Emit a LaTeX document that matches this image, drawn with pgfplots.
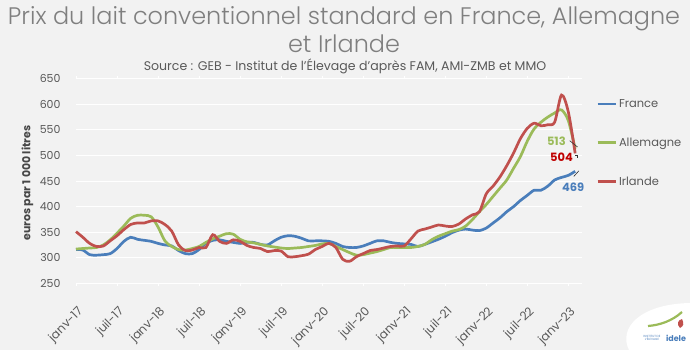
\documentclass[border=0pt]{standalone}
\usepackage{pgfplots}
\pgfplotsset{compat=1.18}
\usepackage{fontspec}
\setmainfont{Poppins}
\newfontfamily\lightfont{Poppins Light}
\definecolor{bg}{HTML}{F2F2F2}
\definecolor{fr}{HTML}{4A7EBB}
\definecolor{de}{HTML}{9BBB59}
\definecolor{ie}{HTML}{C0504D}
\definecolor{ied}{HTML}{C00000}
\definecolor{ttl}{HTML}{7F7F7F}
\definecolor{txt}{HTML}{595959}
\begin{document}
\begin{tikzpicture}[x=1bp,y=1bp]
\useasboundingbox (0,0) rectangle (690,350);
\fill[bg] (0,0) rectangle (690,350);
\node[anchor=base, font=\lightfont\fontsize{24}{28}\selectfont, text=ttl, inner sep=0] at (344,326) {Prix du lait conventionnel standard en France, Allemagne};
\node[anchor=base, font=\lightfont\fontsize{24}{28}\selectfont, text=ttl, inner sep=0] at (344,298) {et Irlande};
\node[anchor=base, font=\fontsize{12.6}{14}\selectfont, text=txt, inner sep=0] at (345,280) {Source : GEB - Institut de l'Élevage d'après FAM, AMI-ZMB et MMO};
\node[rotate=90, font=\bfseries\fontsize{11}{13}\selectfont, text=txt!80!black] at (27.5,167) {euros par 1 000 litres};
% logo
\fill[white] (629,0) .. controls (618,22) and (640,46) .. (690,47) -- (690,0) -- cycle;
\draw[de, line width=2.2bp] (648,24) .. controls (660,25) and (672,29) .. (682,38);
\fill[ie] (680,22) .. controls (676,26) and (678,30) .. (682,31) .. controls (684,27) and (684,24) .. cycle;
\node[font=\bfseries\fontsize{8}{9}\selectfont, text=fr, inner sep=0] at (676,12) {idele};
\node[font=\fontsize{3}{3.5}\selectfont, text=fr, inner sep=0, align=center] at (652,12) {INSTITUT DE\\L'ÉLEVAGE};
\begin{axis}[
  at={(76bp,66.7bp)}, anchor=south west,
  scale only axis, width=506bp, height=204.6bp,
  xmin=0, xmax=74, ymin=250, ymax=650,
  xtick={0,6,...,72},
  xticklabels={janv-17,juil-17,janv-18,juil-18,janv-19,juil-19,janv-20,juil-20,janv-21,juil-21,janv-22,juil-22,janv-23},
  ytick={250,300,...,650},
  /pgf/number format/assume math mode=true,
  ymajorgrids, major grid style={white, line width=1bp},
  axis line style={draw=none},
  tick align=outside, major tick length=3bp,
  xtick style={white, line width=1bp},
  ytick style={draw=none},
  tick label style={font=\fontsize{11}{13}\selectfont, text=txt},
  xticklabel style={font=\fontsize{12}{14}\selectfont, yshift=-23bp, xshift=6bp, rotate=45, anchor=east, inner sep=1bp},
  yticklabel style={xshift=-9bp},
  clip=false,
  legend style={at={(1.022,0.92)}, anchor=north west, draw=none, fill=none,
    font=\fontsize{11.5}{13}\selectfont, text=txt, row sep=25bp},
  legend cell align=left,
  legend image code/.code={\draw[#1] (0bp,0bp) -- (18bp,0bp);},
]
\addplot[fr, line width=2.7bp, smooth, tension=0.5] coordinates {
(0,316)(1,315)(2,306)(3,305)(4,306)(5,308)(6,318)(7,332)(8,340)(9,336)(10,334)(11,332)(12,328)(13,325)(14,323)(15,314)(16,308)(17,308)(18,316)(19,328)(20,334)(21,335)(22,332)(23,330)(24,328)(25,330)(26,330)(27,326)(28,325)(29,333)(30,340)(31,343)(32,342)(33,338)(34,333)(35,333)(36,333)(37,332)(38,328)(39,322)(40,320)(41,320)(42,323)(43,328)(44,333)(45,333)(46,330)(47,328)(48,327)(49,326)(50,322)(51,326)(52,331)(53,336)(54,342)(55,349)(56,354)(57,356)(58,354)(59,353)(60,358)(61,368)(62,378)(63,390)(64,400)(65,412)(66,422)(67,432)(68,432)(69,440)(70,452)(71,457)(72,461)(73,469)};
\addlegendentry{France}
\addplot[de, line width=2.7bp, smooth, tension=0.5] coordinates {
(0,317)(1,318)(2,319)(3,320)(4,325)(5,335)(6,348)(7,362)(8,377)(9,383)(10,383)(11,380)(12,360)(13,333)(14,322)(15,316)(16,315)(17,318)(18,322)(19,330)(20,337)(21,342)(22,347)(23,346)(24,336)(25,331)(26,329)(27,326)(28,323)(29,321)(30,319)(31,318)(32,319)(33,320)(34,322)(35,324)(36,327)(37,328)(38,322)(39,316)(40,310)(41,305)(42,306)(43,309)(44,312)(45,316)(46,320)(47,320)(48,320)(49,320)(50,322)(51,326)(52,335)(53,342)(54,347)(55,352)(56,355)(57,362)(58,375)(59,390)(60,404)(61,420)(62,436)(63,452)(64,475)(65,498)(66,528)(67,552)(68,565)(69,575)(70,583)(71,589)(72,568)(73,513)};
\addlegendentry{Allemagne}
\addplot[ie, line width=2.7bp, smooth, tension=0.5] coordinates {
(0,351)(1,340)(2,328)(3,322)(4,323)(5,333)(6,343)(7,355)(8,365)(9,368)(10,368)(11,372)(12,372)(13,365)(14,352)(15,325)(16,314)(17,315)(18,320)(19,320)(20,345)(21,332)(22,328)(23,335)(24,332)(25,324)(26,320)(27,318)(28,312)(29,314)(30,313)(31,302)(32,302)(33,304)(34,307)(35,316)(36,322)(37,328)(38,320)(39,297)(40,293)(41,302)(42,308)(43,314)(44,316)(45,319)(46,322)(47,323)(48,323)(49,337)(50,352)(51,356)(52,360)(53,364)(54,362)(55,361)(56,366)(57,376)(58,384)(59,390)(60,425)(61,440)(62,458)(63,480)(64,505)(65,533)(66,553)(67,563)(68,558)(69,560)(70,565)(71,618)(72,585)(73,504)};
\addlegendentry{Irlande}
\node[font=\bfseries\fontsize{11.5}{13}\selectfont, text=de] at (axis cs:70.25,526.8) {513};
\node[font=\bfseries\fontsize{11.5}{13}\selectfont, text=ied] at (axis cs:71.0,495.6) {504};
\node[font=\bfseries\fontsize{11.5}{13}\selectfont, text=fr] at (axis cs:72.7,436.9) {469};
\draw[black!80, line width=0.6bp] (axis cs:72.2,528.8) -- (axis cs:73.35,516.5);
\draw[black!80, line width=0.6bp] (axis cs:73.0,499.5) -- (axis cs:73.35,499.5) -- (axis cs:73.35,495);
\draw[black!80, line width=0.6bp] (axis cs:72.8,459) -- (axis cs:73.55,470);
\end{axis}
\end{tikzpicture}
\end{document}
